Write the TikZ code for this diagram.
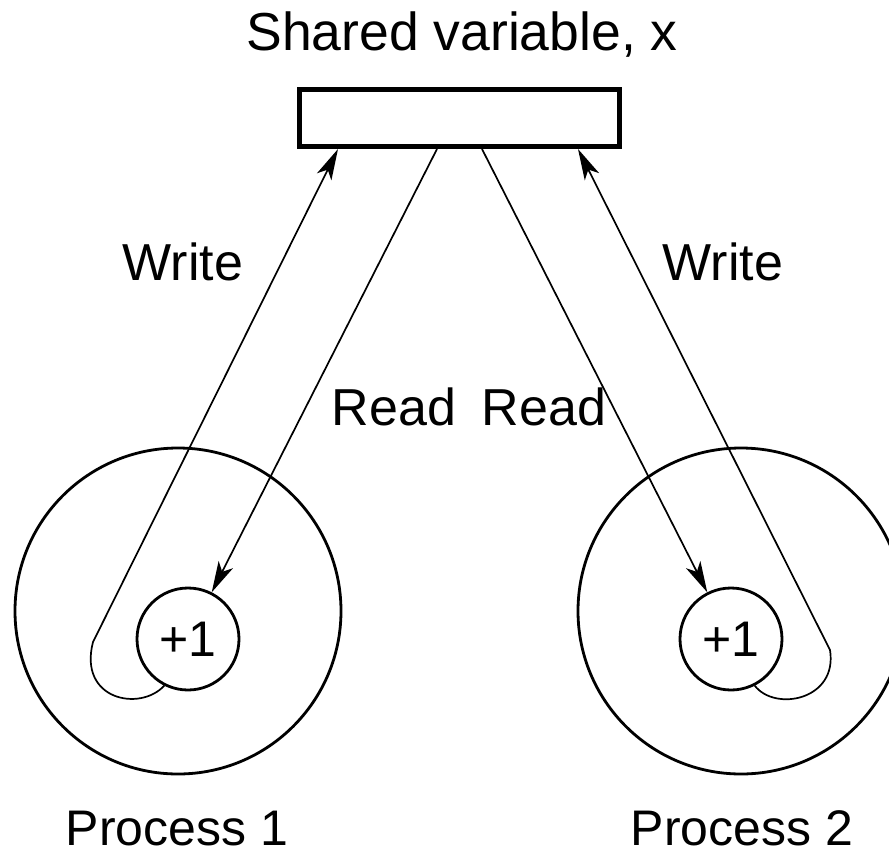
\documentclass[tikz,border=0pt]{standalone}
\usepackage{fontspec}
\setmainfont{Liberation Sans}
\usetikzlibrary{arrows.meta, positioning, calc}

\begin{document}
\begin{tikzpicture}[x=1pt, y=-1pt,
    lbl/.style={anchor=base, inner sep=0pt, font=\fontsize{52}{60}\selectfont},
    proc/.style={circle, draw, line width=2.8pt, minimum size=326pt, inner sep=0pt},
    incr/.style={circle, draw, line width=2.8pt, minimum size=102pt, inner sep=0pt,
                 font=\fontsize{50}{60}\selectfont},
    flow/.style={line width=1.7pt, -{Stealth[length=31pt, width=16pt, inset=8pt]}}
  ]
    \clip (0,0) rectangle (889,855);

    % Shared variable box
    \node[draw, line width=5pt, minimum width=320pt, minimum height=57pt, inner sep=0pt] (var) at (459.5,118) {};
    \node[lbl, font=\fontsize{53.5}{60}\selectfont] (title) at (462,50) {Shared variable, x};

    % Processes and their increment steps
    \node[proc] (p1) at (178,611) {};
    \node[proc] (p2) at (741,611) {};
    \node[incr] (inc1) at (188,639) {+1};
    \node[incr] (inc2) at (731,639) {+1};

    \coordinate (w1) at (93,642);
    \coordinate (w2) at (830,650);

    % Read: variable -> increment
    \draw[flow] ([xshift=-22.5]var.south) -- (inc1);
    \draw[flow] ([xshift=22.5]var.south) -- (inc2);

    % Write: increment -> variable
    \draw[flow] (inc1.243) .. controls (140,712) and (78,700) .. (w1) -- ([xshift=-121.5]var.south);
    \draw[flow] (inc2.297) .. controls (775,712) and (838,700) .. (w2) -- ([xshift=118.5]var.south);

    % Labels
    \node[lbl] (write1) at (183,280) {Write};
    \node[lbl] (write2) at (723,280) {Write};
    \node[lbl] (read1) at (394,425) {Read};
    \node[lbl] (read2) at (544,425) {Read};
    \node[lbl, font=\fontsize{50}{60}\selectfont] (name1) at (177,845) {Process 1};
    \node[lbl, font=\fontsize{50}{60}\selectfont] (name2) at (742,845) {Process 2};
\end{tikzpicture}
\end{document}
